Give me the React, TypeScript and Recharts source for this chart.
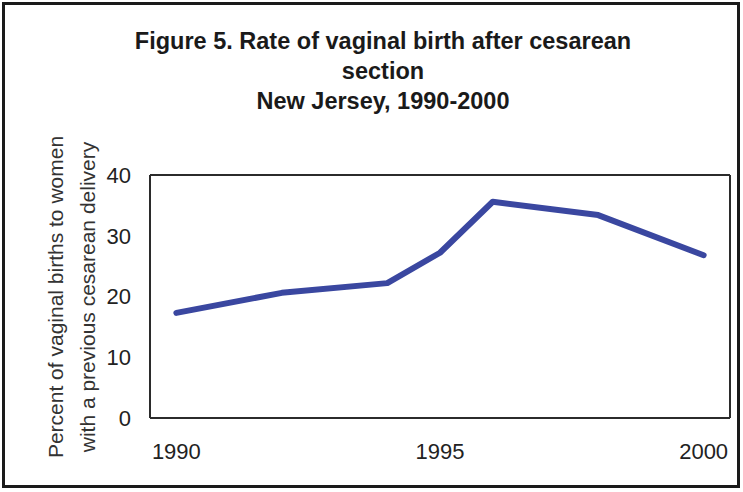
import React from 'react';
import { LineChart, Line, XAxis, YAxis, ReferenceLine } from 'recharts';

const years = [1990, 1992, 1994, 1995, 1996, 1998, 2000];
const vbacRate = [17.3, 20.6, 22.2, 27.2, 35.6, 33.4, 26.8];
const xTicks = [1990, 1995, 2000];
const yTicks = [0, 10, 20, 30, 40];
const titleLines = [
  'Figure 5. Rate of vaginal birth after cesarean',
  'section',
  'New Jersey, 1990-2000',
];
const yLabelLines = ['Percent of vaginal births to women', 'with a previous cesarean delivery'];

const data = years.map((year, i) => ({ year, rate: vbacRate[i] }));

const font = 'Arial, "Liberation Sans", Helvetica, sans-serif';
const axisColor = '#2b2b2b';
const tickStyle = { fontSize: 22, fill: '#222', fontFamily: font };
const xDomain = [1989.5, 2000.5];

const App = () => {
  return (
    <div
      style={{
        position: 'absolute',
        top: 0,
        left: 0,
        width: 743,
        height: 492,
        background: '#fff',
        fontFamily: font,
      }}
    >
      <div
        style={{
          position: 'absolute',
          left: 2,
          top: 2,
          width: 738,
          height: 486,
          border: '3px solid #1a1a1a',
          boxSizing: 'border-box',
        }}
      />
      <div
        style={{
          position: 'absolute',
          left: 0,
          width: 766,
          top: 26,
          textAlign: 'center',
          fontWeight: 'bold',
          fontSize: 23.5,
          lineHeight: '30px',
          color: '#1a1a1a',
        }}
      >
        {titleLines.map((t) => (
          <div key={t}>{t}</div>
        ))}
      </div>
      {yLabelLines.map((t, i) => (
        <div
          key={t}
          style={{
            position: 'absolute',
            left: 56 + i * 32 - 200,
            top: 297 - 12,
            width: 400,
            height: 24,
            lineHeight: '24px',
            textAlign: 'center',
            fontSize: 21,
            color: '#333',
            transform: 'rotate(-90deg)',
            whiteSpace: 'nowrap',
          }}
        >
          {t}
        </div>
      ))}
      <LineChart
        width={743}
        height={492}
        data={data}
        margin={{ top: 175, right: 13, bottom: 34, left: 90 }}
        style={{ position: 'absolute', top: 0, left: 0 }}
      >
        <XAxis
          dataKey="year"
          type="number"
          domain={xDomain}
          ticks={xTicks}
          height={40}
          tickLine={false}
          tickSize={0}
          tickMargin={25}
          tick={tickStyle}
          axisLine={{ stroke: axisColor, strokeWidth: 2 }}
        />
        <YAxis
          domain={[0, 40]}
          ticks={yTicks}
          width={60}
          tickLine={false}
          tickSize={0}
          tickMargin={19}
          tick={tickStyle}
          axisLine={{ stroke: axisColor, strokeWidth: 2 }}
        />
        <ReferenceLine y={40} stroke={axisColor} strokeWidth={2} />
        <ReferenceLine x={xDomain[1]} stroke={axisColor} strokeWidth={2} />
        <Line
          type="linear"
          dataKey="rate"
          stroke="#3a47a0"
          strokeWidth={6}
          strokeLinejoin="round"
          strokeLinecap="round"
          dot={false}
          activeDot={false}
          isAnimationActive={false}
        />
      </LineChart>
    </div>
  );
};

export default App;
